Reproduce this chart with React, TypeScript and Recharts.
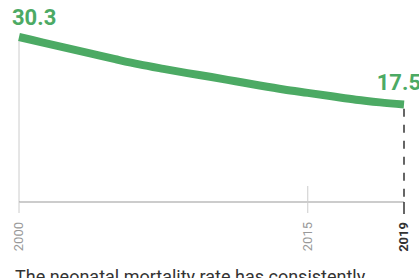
import React from 'react';
import { LineChart, Line, XAxis, YAxis, ReferenceLine } from 'recharts';

const years = ['2000','2001','2002','2003','2004','2005','2006','2007','2008','2009','2010','2011','2015','2016','2017','2018','2019'];
const rates = [30.3, 29.25, 28.2, 27.15, 26.1, 25.1, 24.25, 23.45, 22.7, 21.9, 21.1, 20.35, 19.7, 19.05, 18.4, 17.9, 17.5];
const tickYears = ['2000', '2015', '2019'];
const caption = 'The neonatal mortality rate has consistently';

const data = years.map((y, i) => ({ year: y, rate: rates[i] }));

const GREEN = '#4CAA64';
const FONT = 'Roboto, sans-serif';

const Tick = (props: any) => {
  const { x, y, payload } = props;
  const v = payload.value;
  const isLast = v === '2019';
  const isMid = v === '2015';
  return (
    <g>
      {isMid && <line x1={x} x2={x} y1={y - 16} y2={y + 11} stroke="#cccccc" strokeWidth={1} />}
      {v === '2000' && <line x1={x} x2={x} y1={y} y2={y + 11} stroke="#cccccc" strokeWidth={1} />}
      {isLast && <line x1={x} x2={x} y1={y} y2={y + 12} stroke="#333333" strokeWidth={1.5} />}
      <text
        x={x + 4}
        y={y + 20}
        transform={`rotate(-90, ${x + 4}, ${y + 20})`}
        textAnchor="end"
        fontFamily={FONT}
        fontSize={13}
        fontWeight={isLast ? 700 : 400}
        fill={isLast ? '#333333' : '#999999'}
      >
        {v}
      </text>
    </g>
  );
};

const ValueLabel = (props: any) => {
  const { x, y, index, value } = props;
  if (index === 0) {
    return (
      <text x={x - 7} y={y - 12} fontFamily={FONT} fontSize={22} fontWeight={700} fill={GREEN} textAnchor="start">
        {value}
      </text>
    );
  }
  if (index === rates.length - 1) {
    return (
      <text x={x + 17} y={y - 14} fontFamily={FONT} fontSize={22} fontWeight={700} fill={GREEN} textAnchor="end">
        {value}
      </text>
    );
  }
  return null;
};

export default function App() {
  return (
    <div style={{ position: 'absolute', left: 0, top: 0, width: 419, height: 278, overflow: 'hidden', background: '#fff' }}>
      <LineChart width={419} height={278} data={data} margin={{ top: 37, right: 15, left: 19, bottom: 16 }}>
        <XAxis
          dataKey="year"
          ticks={tickYears}
          interval={0}
          tick={<Tick />}
          tickLine={false}
          tickSize={0}
          tickMargin={0}
          height={60}
          axisLine={{ stroke: '#999999', strokeWidth: 1 }}
        />
        <YAxis hide domain={[-1, 30.3]} />
        <ReferenceLine
          segment={[{ x: '2000', y: rates[0] - 0.8 }, { x: '2000', y: -1 }]}
          stroke="#cccccc"
          strokeWidth={1}
          ifOverflow="visible"
        />
        <ReferenceLine
          segment={[{ x: '2019', y: rates[rates.length - 1] - 0.8 }, { x: '2019', y: -1 }]}
          stroke="#333333"
          strokeWidth={1.5}
          strokeDasharray="8 8"
          ifOverflow="visible"
        />
        <Line
          type="monotone"
          dataKey="rate"
          stroke={GREEN}
          strokeWidth={8}
          dot={false}
          isAnimationActive={false}
          label={<ValueLabel />}
        />
      </LineChart>
      <div
        style={{
          position: 'absolute',
          left: 15,
          top: 266,
          fontFamily: FONT,
          fontSize: 18,
          lineHeight: '21px',
          color: '#333333',
          whiteSpace: 'nowrap',
        }}
      >
        {caption}
      </div>
    </div>
  );
}
